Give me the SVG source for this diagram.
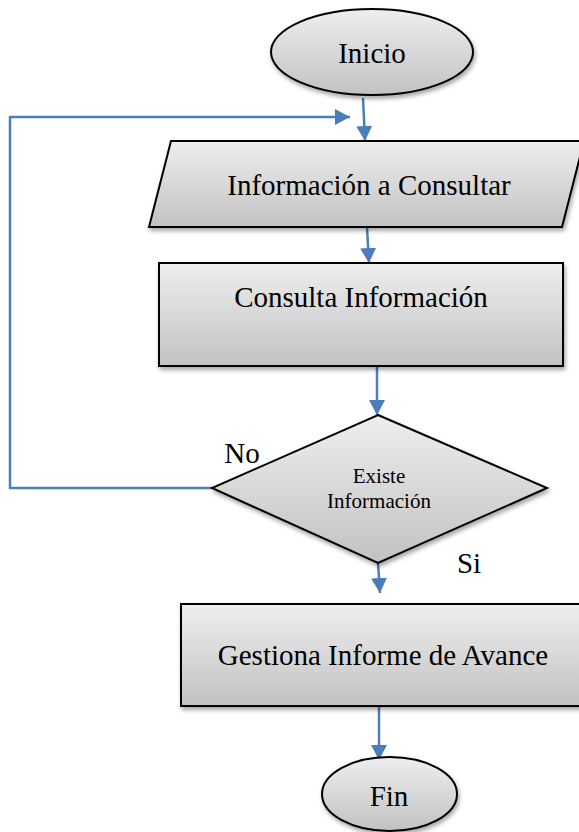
<svg xmlns="http://www.w3.org/2000/svg" width="579" height="832" viewBox="0 0 579 832">
  <style>
    .shape { stroke: #000; stroke-width: 2; fill: url(#grad); filter: url(#shadow); }
    text { font-family: 'Liberation Serif', 'DejaVu Serif', serif; fill: #000; text-anchor: middle; }
    .big { font-size: 29px; }
    .small { font-size: 21px; }
    .conn { fill: none; stroke: #4a7ebb; stroke-width: 2.5; }
  </style>
  <defs>
    <linearGradient id="grad" x1="0" y1="0" x2="0" y2="1">
      <stop offset="0" stop-color="#eeeeee"/>
      <stop offset="1" stop-color="#c2c2c2"/>
    </linearGradient>
    <filter id="shadow" x="-10%" y="-10%" width="120%" height="130%">
      <feDropShadow dx="1.5" dy="3" stdDeviation="2" flood-color="#000" flood-opacity="0.35"/>
    </filter>
    <marker id="arrow" markerUnits="userSpaceOnUse" markerWidth="16" markerHeight="16" refX="15" refY="8" orient="auto">
      <path d="M0,0 L15,8 L0,16 Z" fill="#4a7ebb"/>
    </marker>
  </defs>

  <g id="connectors">
    <path class="conn" d="M363,98 L365,141" marker-end="url(#arrow)"/>
    <path class="conn" d="M212,488 L10,488 L10,117 L350,117" marker-end="url(#arrow)"/>
    <path class="conn" d="M367,227 L369,263" marker-end="url(#arrow)"/>
    <path class="conn" d="M377,366 L377,415" marker-end="url(#arrow)"/>
    <path class="conn" d="M378,563 L380,593" marker-end="url(#arrow)"/>
    <path class="conn" d="M379,706 L379,760" marker-end="url(#arrow)"/>
  </g>

  <g id="inicio">
    <ellipse class="shape" cx="372" cy="52" rx="101" ry="43"/>
    <text class="big" x="372" y="63" font-family="Liberation Serif, serif">Inicio</text>
  </g>

  <g id="informacion-consultar">
    <polygon class="shape" points="171,141 584,141 562,227 149,227"/>
    <text class="big" x="369" y="195" font-family="Liberation Serif, serif">Información a Consultar</text>
  </g>

  <g id="consulta-informacion">
    <rect class="shape" x="159" y="263" width="404" height="103"/>
    <text class="big" x="361" y="307" font-family="Liberation Serif, serif">Consulta Información</text>
  </g>

  <g id="existe-informacion">
    <polygon class="shape" points="378,415 547,488 378,563 212,488"/>
    <text class="small" x="379" y="483" font-family="Liberation Serif, serif">Existe</text>
    <text class="small" x="379" y="508" font-family="Liberation Serif, serif">Información</text>
  </g>

  <g id="label-no">
    <text class="big" x="242" y="463" font-family="Liberation Serif, serif">No</text>
  </g>
  <g id="label-si">
    <text class="big" x="469" y="573" font-family="Liberation Serif, serif">Si</text>
  </g>

  <g id="gestiona-informe">
    <rect class="shape" x="181" y="604" width="404" height="102"/>
    <text class="big" x="383" y="665" font-family="Liberation Serif, serif">Gestiona Informe de Avance</text>
  </g>

  <g id="fin">
    <ellipse class="shape" cx="389.5" cy="794" rx="67.5" ry="37"/>
    <text class="big" x="389" y="806" font-family="Liberation Serif, serif">Fin</text>
  </g>
</svg>
